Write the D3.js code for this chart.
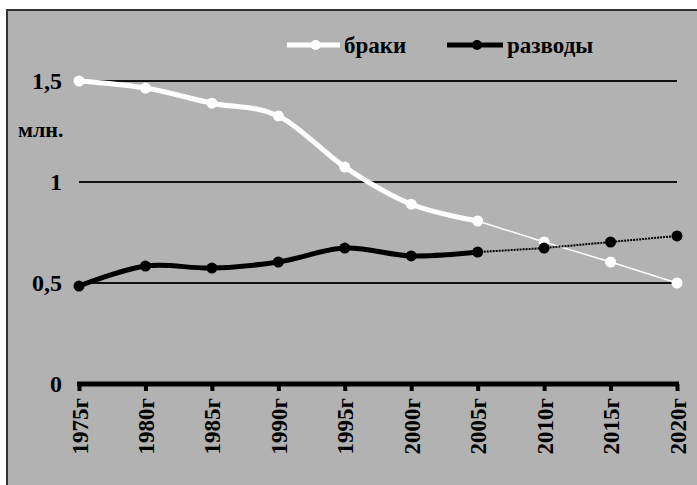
<!DOCTYPE html>
<html><head><meta charset="utf-8">
<script src="https://cdn.jsdelivr.net/npm/d3@7"></script>
<style>html,body{margin:0;padding:0;background:#fff;}svg{display:block;}</style>
</head><body>
<script>
const categories = ["1975г","1980г","1985г","1990г","1995г","2000г","2005г","2010г","2015г","2020г"];
const marriages = [1.5, 1.465, 1.39, 1.327, 1.074, 0.89, 0.807, 0.703, 0.604, 0.5];
const divorces = [0.485, 0.584, 0.574, 0.604, 0.673, 0.634, 0.653, 0.673, 0.703, 0.733];
const yTicks = [0, 0.5, 1, 1.5];
const yTickLabels = ["0", "0,5", "1", "1,5"];
const seriesNames = ["браки", "разводы"];
const actualCount = 7; // 1975–2005 observed, then forecast

const W = 697, H = 485;
const svg = d3.select("body").append("svg").attr("width", W).attr("height", H);
const font = "'Liberation Serif','Times New Roman',serif";

svg.append("rect").attr("x", 7).attr("y", 10).attr("width", W).attr("height", H)
  .attr("fill", "#b2b2b2").attr("stroke", "#333").attr("stroke-width", 2);

const x = d3.scalePoint().domain(categories).range([79, 677]);
const y = d3.scaleLinear().domain([0, 1.5]).range([384, 81]);

// gridlines
svg.append("g").selectAll("line").data(yTicks.filter(d => d > 0)).join("line")
  .attr("x1", x.range()[0]).attr("x2", x.range()[1])
  .attr("y1", d => y(d)).attr("y2", d => y(d))
  .attr("stroke", "#111").attr("stroke-width", 2);

// y labels
svg.append("g").selectAll("text").data(yTicks).join("text")
  .attr("x", 62).attr("y", d => y(d)).attr("dy", "0.35em")
  .attr("text-anchor", "end").attr("font-family", font).attr("font-weight", "bold")
  .attr("font-size", 24).attr("fill", "#000").text((d, i) => yTickLabels[i]);

svg.append("text").attr("x", 18).attr("y", 137).attr("font-family", font)
  .attr("font-weight", "bold").attr("font-size", 22).text("млн.");

// x axis
const xAxis = d3.axisBottom(x).tickSize(7).tickFormat(d => d);
const gx = svg.append("g").attr("transform", `translate(0,${y(0)})`).call(xAxis);
gx.select(".domain").attr("d", `M${x.range()[0]-2},0H${x.range()[1]+2}`).attr("stroke", "#000").attr("stroke-width", 5);
gx.selectAll(".tick line").attr("stroke", "#000").attr("stroke-width", 4);
gx.selectAll(".tick text")
  .attr("font-family", font).attr("font-weight", "bold").attr("font-size", 23).attr("fill", "#000")
  .attr("transform", "rotate(-90)").attr("text-anchor", "end")
  .attr("x", -14).attr("y", 0).attr("dy", "0.35em");

function drawSeries(vals, color, forecastDash, forecastWidth) {
  const pts = vals.map((v, i) => [x(categories[i]), y(v)]);
  const actual = pts.slice(0, actualCount);
  const forecast = pts.slice(actualCount - 1);
  svg.append("path").attr("d", d3.line().curve(d3.curveCardinal.tension(0))(actual))
    .attr("fill", "none").attr("stroke", color).attr("stroke-width", 5).attr("stroke-linecap", "round");
  svg.append("path").attr("d", d3.line()(forecast))
    .attr("fill", "none").attr("stroke", color).attr("stroke-width", forecastWidth)
    .attr("stroke-dasharray", forecastDash);
  svg.append("g").selectAll("circle").data(pts).join("circle")
    .attr("cx", d => d[0]).attr("cy", d => d[1]).attr("r", 5.5).attr("fill", color);
}
drawSeries(marriages, "#fff", null, 1.5);
drawSeries(divorces, "#000", "2,1", 2);

// legend
const legend = [
  {name: seriesNames[0], color: "#fff", x1: 287, x2: 340},
  {name: seriesNames[1], color: "#000", x1: 447, x2: 503}
];
const lg = svg.append("g").selectAll("g").data(legend).join("g");
lg.append("line").attr("x1", d => d.x1).attr("x2", d => d.x2).attr("y1", 45).attr("y2", 45)
  .attr("stroke", d => d.color).attr("stroke-width", 5);
lg.append("circle").attr("cx", d => (d.x1 + d.x2) / 2 + 2).attr("cy", 45).attr("r", 5).attr("fill", d => d.color);
lg.append("text").attr("x", d => d.x2 + 4).attr("y", 45).attr("dy", "0.35em")
  .attr("font-family", font).attr("font-weight", "bold").attr("font-size", 23).text(d => d.name);
</script>
</body></html>
